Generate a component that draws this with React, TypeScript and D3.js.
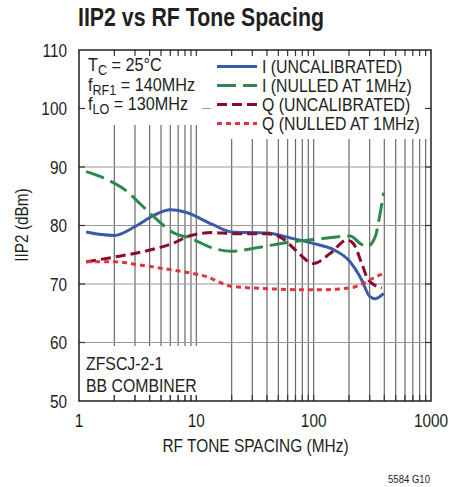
import * as d3 from 'd3';
import React from 'react';

const W = 449;
const H = 487;
const FONT = '"Liberation Sans", Arial, sans-serif';
const INK = '#231f20';

// tone spacing (MHz) and IIP2 (dBm)
const iUncalF = [1.15, 1.5, 2, 3, 4.4, 6, 8, 14, 20, 40, 65, 100, 150, 200, 255, 300, 335, 395];
const iUncalV = [78.9, 78.5, 78.3, 79.8, 81.8, 82.7, 82.3, 80.1, 78.9, 78.7, 77.8, 76.9, 75.8, 74.0, 70.8, 67.9, 67.5, 68.4];

const iNullF = [1.15, 1.8, 2.5, 3.4, 4.5, 6.2, 9, 14, 20, 35, 65, 100, 150, 205, 250, 285, 335, 368, 395];
const iNullV = [89.2, 87.7, 86.0, 83.5, 81.2, 78.9, 77.8, 76.1, 75.6, 76.3, 77.2, 77.6, 78.0, 78.2, 76.9, 76.4, 78.1, 82.0, 85.6];

const qUncalF = [1.15, 2, 4.2, 6.2, 9, 14, 20, 40, 55, 70, 100, 138, 192, 218, 257, 292, 380];
const qUncalV = [73.8, 74.6, 75.9, 76.9, 78.3, 78.8, 78.6, 78.6, 77.7, 75.8, 73.5, 75.2, 77.5, 76.9, 73.5, 70.7, 69.3];

const qNullF = [1.15, 2, 3.4, 6.2, 12, 20, 40, 100, 200, 265, 322, 395];
const qNullV = [73.8, 73.8, 73.2, 72.4, 71.3, 69.6, 69.2, 69.0, 69.3, 70.1, 71.0, 71.8];

const yTicks = [50, 60, 70, 80, 90, 100, 110];
const xTicks = [1, 10, 100, 1000];

const series = [
  { name: 'I (UNCALIBRATED)', f: iUncalF, v: iUncalV, color: '#3b5ba9', dash: null },
  { name: 'I (NULLED AT 1MHz)', f: iNullF, v: iNullV, color: '#2b8a4b', dash: '19,7' },
  { name: 'Q (UNCALIBRATED)', f: qUncalF, v: qUncalV, color: '#8c0a2c', dash: '10,5' },
  { name: 'Q (NULLED AT 1MHz)', f: qNullF, v: qNullV, color: '#e2323d', dash: '5,4' },
];

const margin = { left: 79, right: 431, top: 50, bottom: 401 };

// condensed text: Arial-metric font squeezed horizontally
function Txt({
  x,
  y,
  size = 18.5,
  anchor = 'start',
  weight = 'normal',
  sx = 0.83,
  rotate = 0,
  children,
}: {
  x: number;
  y: number;
  size?: number;
  anchor?: string;
  weight?: string;
  sx?: number;
  rotate?: number;
  children: React.ReactNode;
}) {
  return (
    <text
      transform={`translate(${x},${y}) rotate(${rotate}) scale(${sx},1)`}
      textAnchor={anchor}
      fontSize={size}
      fontWeight={weight}
      fill={INK}
    >
      {children}
    </text>
  );
}

export default function App() {
  const x = d3.scaleLog().domain([1, 1000]).range([margin.left, margin.right]);
  const y = d3.scaleLinear().domain([50, 110]).range([margin.bottom, margin.top]);

  const minor: number[] = [];
  for (const dec of [1, 10, 100]) {
    for (let k = 2; k <= 10; k++) if (dec * k < 1000) minor.push(dec * k);
  }

  const line = d3
    .line<[number, number]>()
    .x((d) => x(d[0]))
    .y((d) => y(d[1]))
    .curve(d3.curveMonotoneX);

  const legendBase = [73, 92, 111, 130];

  return (
    <svg
      width={W}
      height={H}
      style={{ position: 'absolute', left: 0, top: 0, background: '#fff' }}
      fontFamily={FONT}
    >
      <Txt x={78} y={26} size={26} weight="bold" sx={0.82}>
        IIP2 vs RF Tone Spacing
      </Txt>

      {/* grid */}
      {minor.map((m) => (
        <line key={'v' + m} x1={x(m)} x2={x(m)} y1={margin.top} y2={margin.bottom} stroke="#6a6a6a" strokeWidth={1.2} />
      ))}
      {yTicks.slice(1, -1).map((t) => (
        <line key={'h' + t} x1={margin.left} x2={margin.right} y1={y(t)} y2={y(t)} stroke="#9a9a9a" strokeWidth={1.2} />
      ))}

      {/* curves */}
      {series.map((s) => (
        <path
          key={s.name}
          d={line(s.f.map((f, i) => [f, s.v[i]] as [number, number])) || ''}
          fill="none"
          stroke={s.color}
          strokeWidth={3}
          strokeDasharray={s.dash || undefined}
        />
      ))}

      {/* text boxes covering the grid */}
      <rect x={80} y={51} width={122} height={74} fill="#fff" />
      <rect x={211} y={51} width={219} height={88} fill="#fff" />
      <rect x={80} y={346} width={120} height={49} fill="#fff" />

      {/* edge ticks */}
      {minor.map((m) => (
        <g key={'t' + m} stroke="#333" strokeWidth={1.2}>
          <line x1={x(m)} x2={x(m)} y1={margin.top} y2={margin.top + 6} />
          <line x1={x(m)} x2={x(m)} y1={margin.bottom} y2={margin.bottom - 6} />
        </g>
      ))}
      {yTicks.slice(1, -1).map((t) => (
        <g key={'yt' + t} stroke="#333" strokeWidth={1.2}>
          <line x1={margin.left} x2={margin.left + 6} y1={y(t)} y2={y(t)} />
          <line x1={margin.right} x2={margin.right - 6} y1={y(t)} y2={y(t)} />
        </g>
      ))}

      <rect
        x={margin.left}
        y={margin.top}
        width={margin.right - margin.left}
        height={margin.bottom - margin.top}
        fill="none"
        stroke={INK}
        strokeWidth={1.5}
      />

      {/* legend */}
      {series.map((s, i) => (
        <g key={'lg' + i}>
          <line
            x1={217}
            x2={257}
            y1={legendBase[i] - 6.5}
            y2={legendBase[i] - 6.5}
            stroke={s.color}
            strokeWidth={3}
            strokeDasharray={s.dash || undefined}
          />
          <Txt x={262} y={legendBase[i]} size={18} sx={0.88}>
            {s.name}
          </Txt>
        </g>
      ))}

      {/* conditions */}
      <Txt x={88} y={71} size={18} sx={0.9}>
        T<tspan fontSize={14} dy={4}>C</tspan>
        <tspan dy={-4}> = 25°C</tspan>
      </Txt>
      <Txt x={88} y={90.5} size={18} sx={0.9}>
        f<tspan fontSize={14} dy={4}>RF1</tspan>
        <tspan dy={-4}> = 140MHz</tspan>
      </Txt>
      <Txt x={88} y={110} size={18} sx={0.9}>
        f<tspan fontSize={14} dy={4}>LO</tspan>
        <tspan dy={-4}> = 130MHz</tspan>
      </Txt>
      <Txt x={86} y={370} size={18} sx={0.88}>
        ZFSCJ-2-1
      </Txt>
      <Txt x={86} y={391.5} size={18} sx={0.88}>
        BB COMBINER
      </Txt>

      {/* axes labels */}
      {yTicks.map((t) => (
        <Txt key={'yl' + t} x={67} y={y(t) + 6.7} anchor="end">
          {t}
        </Txt>
      ))}
      {xTicks.map((t) => (
        <Txt key={'xl' + t} x={x(t)} y={426.5} anchor="middle">
          {t}
        </Txt>
      ))}
      <Txt x={255.5} y={452} anchor="middle" sx={0.835}>
        RF TONE SPACING (MHz)
      </Txt>
      <Txt x={28} y={225} anchor="middle" rotate={-90}>
        IIP2 (dBm)
      </Txt>
      <Txt x={430} y={482.5} anchor="end" size={11} sx={0.87}>
        5584 G10
      </Txt>
    </svg>
  );
}
